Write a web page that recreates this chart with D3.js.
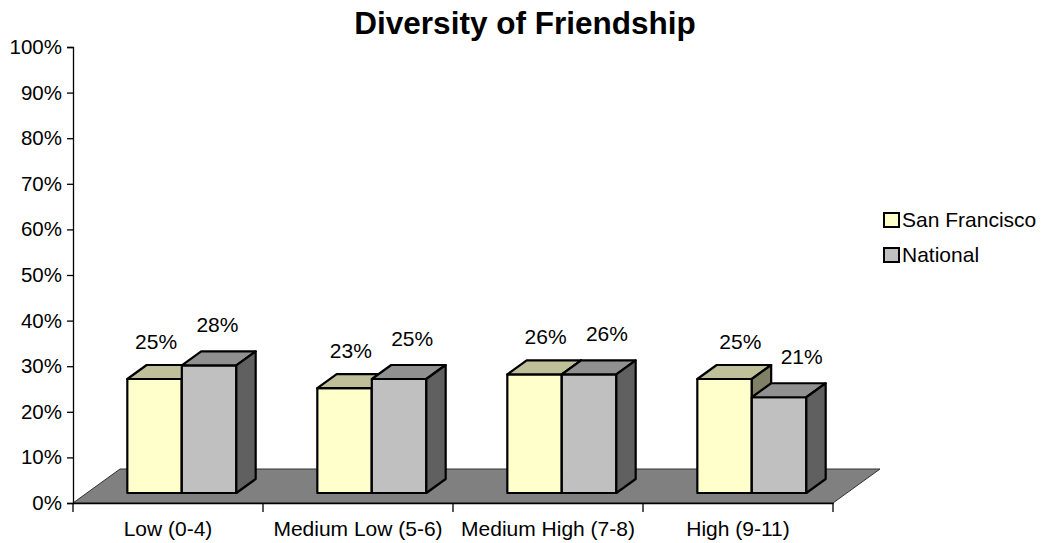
<!DOCTYPE html>
<html><head><meta charset="utf-8">
<script src="https://cdn.jsdelivr.net/npm/d3@7"></script>
<style>body{margin:0;background:#fff}svg{display:block}text{font-family:"Liberation Sans",Arial,sans-serif;fill:#000}</style>
</head><body>
<svg id="c" width="1043" height="543"></svg>
<script>
const categories = ["Low (0-4)", "Medium Low (5-6)", "Medium High (7-8)", "High (9-11)"];
const seriesNames = ["San Francisco", "National"];
const sanFrancisco = [0.25, 0.23, 0.26, 0.25];
const national = [0.28, 0.25, 0.26, 0.21];
const yTicks = [0, 0.1, 0.2, 0.3, 0.4, 0.5, 0.6, 0.7, 0.8, 0.9, 1.0];
const title = "Diversity of Friendship";

const values = [sanFrancisco, national];
const colors = [
  {front:"#FFFFCC", top:"#BFBF99", side:"#808066"},
  {front:"#C0C0C0", top:"#909090", side:"#606060"}
];

const svg = d3.select("#c");
const L = 73, R = 833, B = 503, T = 47;
const depth = [47, -34];           // floor depth vector
const barFront = 10/34, barBack = 24/34;

const x = d3.scaleBand().domain(categories).range([L, R]);
const xs = d3.scaleBand().domain(seriesNames).range([0, x.bandwidth()]).paddingInner(0).paddingOuter(0.743);
const y = d3.scaleLinear().domain([0, 1]).range([B, T]);

// title
svg.append("text").attr("x", 525).attr("y", 34).attr("text-anchor", "middle")
  .style("font-size", "31.5px").style("font-weight", "bold").text(title);

// floor
const floor = [[L, B], [R, B], [R + depth[0], B + depth[1]], [L + depth[0], B + depth[1]]];
svg.append("polygon").attr("points", floor.map(p => p.join(",")).join(" "))
  .attr("fill", "#808080").attr("stroke", "#333").attr("stroke-width", 1);

// y axis
const yAxis = svg.append("g").attr("transform", `translate(${L},0)`)
  .call(d3.axisLeft(y).tickValues(yTicks).tickFormat(d3.format(".0%")).tickSize(6).tickPadding(5));
yAxis.select(".domain").attr("stroke", "#000").attr("stroke-width", 1.3);
yAxis.selectAll(".tick line").attr("stroke", "#000").attr("stroke-width", 1.3);
yAxis.selectAll("text").style("font-size", "20.5px").attr("font-family", null).attr("fill", "#000");

// x axis
const xAxis = svg.append("g").attr("transform", `translate(0,${B})`)
  .call(d3.axisBottom(x).tickSize(0).tickPadding(0));
xAxis.select(".domain").attr("stroke", "#000").attr("stroke-width", 1.3);
xAxis.selectAll(".tick text").attr("y", 33).attr("dy", null).style("font-size", "21px").attr("font-family", null).attr("fill", "#000");
const edges = categories.map(c => x(c)).concat([R]);
xAxis.selectAll(".edge").data(edges).enter().append("line")
  .attr("x1", d => d).attr("x2", d => d).attr("y1", 0).attr("y2", 9)
  .attr("stroke", "#000").attr("stroke-width", 1.3);

// bars
const fdx = depth[0] * barFront, fdy = depth[1] * barFront;
const bdx = depth[0] * (barBack - barFront), bdy = depth[1] * (barBack - barFront);
const barsG = svg.append("g");
const labelsG = svg.append("g");
categories.forEach((cat, ci) => {
  seriesNames.forEach((s, si) => {
    const v = values[si][ci];
    const x0 = x(cat) + xs(s) + fdx, x1 = x0 + xs.bandwidth();
    const yb = y(0) + fdy, yt = y(v) + fdy;
    const c = colors[si];
    const g = barsG.append("g").attr("stroke", "#000").attr("stroke-width", 2.2).attr("stroke-linejoin", "round");
    g.append("polygon").attr("fill", c.front)
      .attr("points", [[x0, yb], [x1, yb], [x1, yt], [x0, yt]].map(p => p.join(",")).join(" "));
    g.append("polygon").attr("fill", c.top)
      .attr("points", [[x0, yt], [x1, yt], [x1 + bdx, yt + bdy], [x0 + bdx, yt + bdy]].map(p => p.join(",")).join(" "));
    g.append("polygon").attr("fill", c.side)
      .attr("points", [[x1, yb], [x1 + bdx, yb + bdy], [x1 + bdx, yt + bdy], [x1, yt]].map(p => p.join(",")).join(" "));
    const cx = (x0 + x1) / 2;
    const off = (si === 0 ? 1.5 : 7) + 0.025 * (cx - 155);
    labelsG.append("text").attr("x", cx + off).attr("y", yt - (si === 0 ? 30 : 33))
      .attr("text-anchor", "middle").style("font-size", "21px").text(d3.format(".0%")(v));
  });
});

// legend
const lg = svg.append("g");
seriesNames.forEach((s, i) => {
  const yy = 213 + i * 35;
  lg.append("rect").attr("x", 884).attr("y", yy).attr("width", 15).attr("height", 14)
    .attr("fill", colors[i].front).attr("stroke", "#000").attr("stroke-width", 2);
  lg.append("text").attr("x", 902).attr("y", yy + 14).style("font-size", "21px").text(s);
});
</script>
</body></html>
